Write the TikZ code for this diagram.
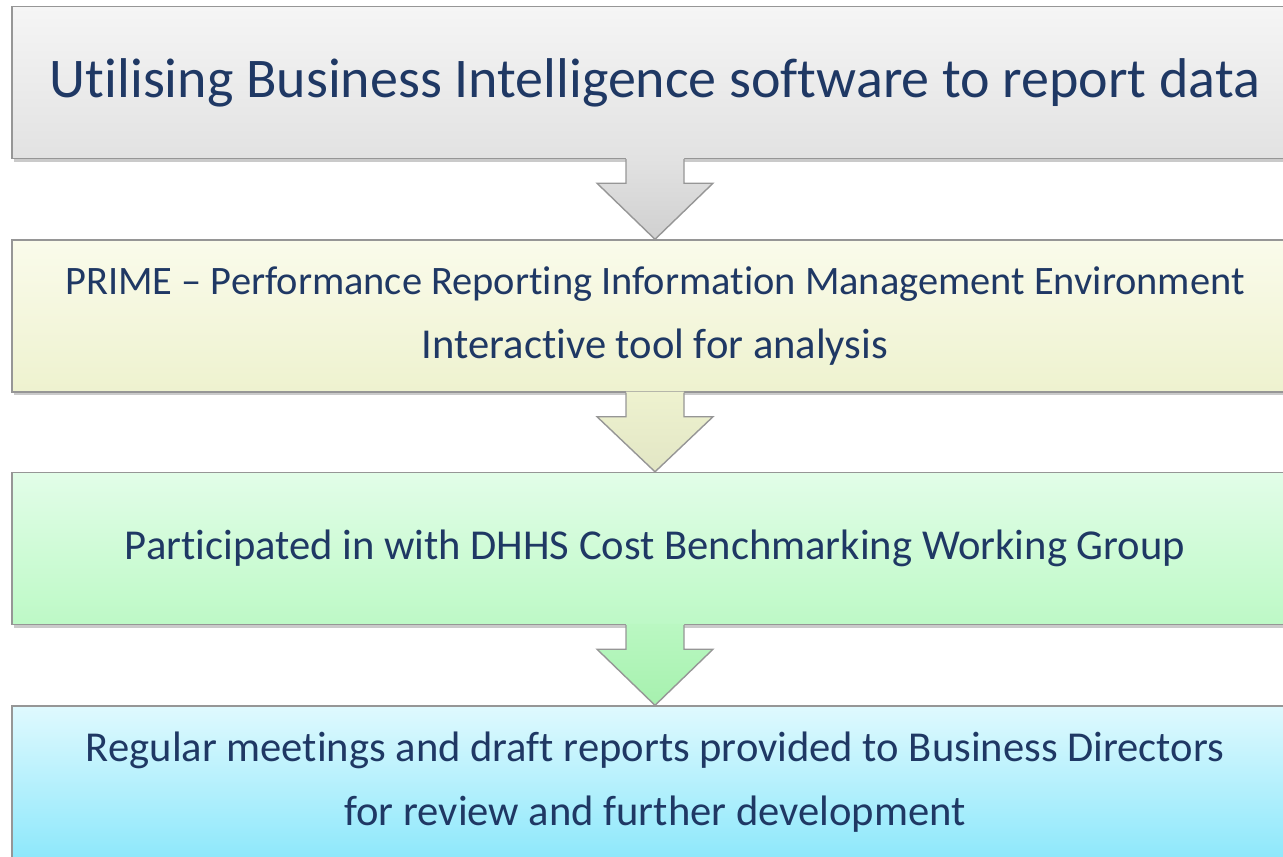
\documentclass[tikz,border=0pt]{standalone}
\usepackage{fontspec}
\setmainfont{Carlito}[Ligatures=NoCommon]
\usepackage{xcolor}
\usepackage{tikz}
\usetikzlibrary{calc}
\usetikzlibrary{shadows}
\definecolor{navytext}{RGB}{31,56,100}
\definecolor{boxedge}{RGB}{150,150,150}
\definecolor{greyTop}{RGB}{245,245,245}
\definecolor{greyBot}{RGB}{226,226,226}
\definecolor{yellowTop}{RGB}{250,251,235}
\definecolor{yellowBot}{RGB}{238,242,207}
\definecolor{greenTop}{RGB}{226,253,232}
\definecolor{greenBot}{RGB}{189,249,198}
\definecolor{cyanTop}{RGB}{223,249,254}
\definecolor{cyanBot}{RGB}{142,232,251}
\definecolor{greenArrTop}{RGB}{186,248,194}
\definecolor{greenArrBot}{RGB}{166,240,174}
\tikzstyle{stage} = [rectangle, draw=boxedge, line width=0.7pt, minimum width=643pt, minimum height=76pt, inner sep=0pt, align=center, text=navytext, font=\fontsize{21.3pt}{32pt}\selectfont, drop shadow={shadow xshift=1pt, shadow yshift=-1.5pt, opacity=0.35, fill=black!60}]
% block arrow from one stage down to the next
\newcommand{\flowarrow}[4]{
  \path[top color=#3, bottom color=#4] ($(#1.south)+(-29,-1)$) -- ($(#1.south)+(-29,24)$) -- ($(#1.south)+(-58,24)$) -- (#2.north) -- ($(#1.south)+(58,24)$) -- ($(#1.south)+(29,24)$) -- ($(#1.south)+(29,-1)$) -- cycle;
  \draw[boxedge, line width=0.7pt, line join=miter] ($(#1.south)+(-29,0)$) -- ($(#1.south)+(-29,24)$) -- ($(#1.south)+(-58,24)$) -- (#2.north) -- ($(#1.south)+(58,24)$) -- ($(#1.south)+(29,24)$) -- ($(#1.south)+(29,0)$);
}

\begin{document}
\begin{tikzpicture}[x=0.5pt, y=-0.5pt]
\useasboundingbox (0,0) rectangle (1283,856);
\clip (0,0) rectangle (1283,856);
\node [stage, top color=greyTop, bottom color=greyBot, font=\fontsize{28pt}{34pt}\selectfont] (bi) at (655, 82.5) {Utilising Business Intelligence software to report data};
\node [stage, top color=yellowTop, bottom color=yellowBot] (prime) at (655, 316) {{\fontsize{20.2pt}{32pt}\selectfont PRIME -- Performance Reporting Information Management Environment}\\Interactive tool for analysis};
\node [stage, top color=greenTop, bottom color=greenBot] (dhhs) at (655, 548.5) {Participated in with DHHS Cost Benchmarking Working Group};
\node [stage, top color=cyanTop, bottom color=cyanBot] (meet) at (655, 782) {Regular meetings and draft reports provided to Business Directors\\for review and further development};
\flowarrow{bi}{prime}{greyBot}{greyBot!92!black}
\flowarrow{prime}{dhhs}{yellowBot}{yellowBot!95!black}
\flowarrow{dhhs}{meet}{greenArrTop}{greenArrBot}
\end{tikzpicture}
\end{document}
